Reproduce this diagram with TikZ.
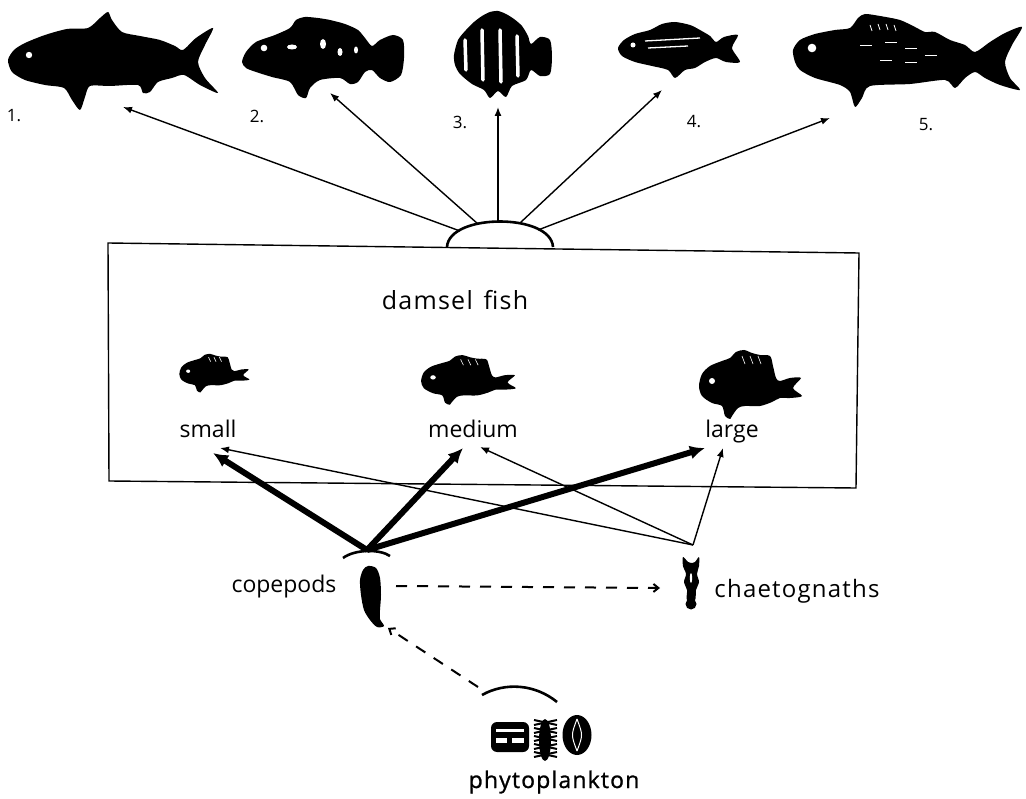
\documentclass[tikz,border=0pt]{standalone}
\usepackage{fontspec}
\setmainfont{Open Sans}
\usetikzlibrary{arrows.meta}
\begin{document}
\begin{tikzpicture}[x=1pt,y=-1pt,
  lbl/.style={font=\fontsize{23}{23}\selectfont, inner sep=0pt, anchor=base},
  num/.style={font=\fontsize{17}{17}\selectfont, inner sep=0pt},
  thinarrow/.style={line width=1.4pt,-{Latex[length=9pt,width=7pt]}},
  thickarrow/.style={line width=6pt,-{Latex[length=15pt,width=14pt]}},
  dasharrow/.style={line width=2pt,dash pattern=on 11pt off 10pt,-{Straight Barb[length=5pt,width=8pt]}},
  caparc/.style={line width=2.6pt},
  boxline/.style={line width=1.4pt},
  sil/.style={fill=black},
  damsel/.pic={
    \fill plot[smooth cycle, tension=0.5] coordinates {(-51,0) (-48,-12) (-40,-20) (-28,-25) (-20,-28) (-14,-34) (-6,-36) (2,-33) (10,-31) (20,-30) (23,-20) (26,-8) (30,-5) (40,-8) (51,-8) (43,2) (52,10) (40,12) (30,12) (22,16) (10,20) (-5,20) (-12,22) (-18,30) (-20,33) (-25,30) (-28,20) (-38,17) (-48,10)};
    \fill[white] (-38,-5) circle (3);
    \foreach \rx in {-8,0,8}
      \draw[white, line width=0.6pt] (\rx,-30) -- (\rx+3,-22);
  }
]
\useasboundingbox (0,0) rectangle (1026,799);

% ---------- top fish ----------
% fish 1
\fill[sil] plot[smooth cycle, tension=0.45] coordinates {(8,60) (14,50) (25,43) (45,35) (67,29) (88,28) (100,18) (108,12) (112,20) (122,32) (140,36) (160,40) (175,46) (183,50) (196,38) (213,28) (205,45) (198,62) (205,78) (218,93) (200,85) (184,75) (172,78) (158,82) (150,92) (143,93) (138,85) (110,86) (90,86) (85,97) (80,110) (72,100) (64,88) (45,85) (25,80) (12,72)};
\fill[white] (29,55) circle (3.2);
% fish 2
\fill[sil] plot[smooth cycle, tension=0.45] coordinates {(242,62) (246,52) (256,42) (275,35) (290,28) (296,20) (305,17) (318,18) (330,20) (345,24) (358,30) (365,38) (372,46) (380,40) (393,35) (403,40) (404,58) (401,75) (390,82) (380,78) (372,70) (365,72) (358,82) (350,84) (340,78) (320,80) (310,88) (306,98) (298,95) (290,82) (272,77) (256,72) (246,68)};
\fill[white] (264,48) circle (3.3);
\fill[white] (292,47) ellipse (5 and 2.5);
\fill[white] (323,44) ellipse (3 and 5);
\fill[white] (340,52) ellipse (2.5 and 4);
\fill[white] (356,50) ellipse (2 and 3.5);
% fish 3
\fill[sil] plot[smooth cycle, tension=0.45] coordinates {(454,55) (458,40) (466,30) (474,22) (482,16) (490,12) (498,11) (506,14) (514,19) (522,26) (528,36) (531,44) (540,37) (550,40) (552,57) (550,74) (540,76) (531,70) (526,80) (512,86) (506,97) (498,91) (490,98) (484,90) (472,84) (460,74) (455,65)};
\foreach \sx/\sy/\ey in {465/40/70, 482/30/80, 500/30/82, 517/36/76}
  \draw[white, line width=3.5pt, line cap=round] (\sx,\sy) -- (\sx+1,\ey);
% fish 4
\fill[sil] plot[smooth cycle, tension=0.45] coordinates {(618,48) (624,40) (635,34) (650,30) (662,24) (675,22) (690,25) (700,30) (710,36) (716,42) (724,37) (738,35) (732,48) (740,62) (726,62) (716,58) (705,62) (695,68) (685,70) (675,78) (668,70) (652,66) (635,62) (622,56)};
\fill[white] (633,45) circle (2.5);
\draw[white, line width=1.3pt] (645,41) -- (700,38);
\draw[white, line width=1.3pt] (648,48) -- (688,46);
% fish 5
\fill[sil] plot[smooth cycle, tension=0.45] coordinates {(793,50) (800,40) (815,34) (835,30) (850,28) (858,18) (865,14) (880,16) (900,20) (915,27) (925,32) (935,32) (950,40) (965,45) (975,52) (990,42) (1005,33) (1022,27) (1012,45) (1005,62) (1010,78) (1020,90) (1000,85) (985,78) (975,72) (965,78) (955,88) (945,80) (910,84) (870,86) (862,98) (855,107) (850,92) (840,85) (815,78) (800,70) (795,62)};
\fill[white] (812,48) circle (4.3);
\foreach \ax/\ay in {870/25, 878/24, 886/24, 894/25}
  \draw[white, line width=0.8pt] (\ax,\ay) -- (\ax+2,\ay+6);
\foreach \ax/\ay in {860/45, 885/42, 905/48, 880/60, 905/62, 925/55}
  \draw[white, line width=0.8pt] (\ax,\ay) -- (\ax+12,\ay);

% numbers
\node[num] (n1) at (14,116) {1.};
\node[num] (n2) at (257,116) {2.};
\node[num] (n3) at (460,122) {3.};
\node[num] (n4) at (694,122) {4.};
\node[num] (n5) at (926,125) {5.};

% top hub arc and arrows
\draw[caparc] (447,247) .. controls (449,213) and (551,213) .. (553,247);
\coordinate (h1) at (460,231);
\coordinate (h2) at (478,224);
\coordinate (h3) at (498,222);
\coordinate (h4) at (520,223);
\coordinate (h5) at (538,230);
\coordinate (f1) at (123,107);
\coordinate (f2) at (330,93);
\coordinate (f3) at (498,107);
\coordinate (f4) at (662,90);
\coordinate (f5) at (830,118);
\foreach \i in {1,...,5} \draw[thinarrow] (h\i) -- (f\i);

% ---------- damsel fish box ----------
\draw[boxline] (108,243) -- (859,253) -- (856,488) -- (109,481) -- cycle;
\node[lbl, font=\fontsize{25}{25}\selectfont\addfontfeature{LetterSpace=5}] (dtitle) at (455,310) {damsel\hspace{3pt} fish};
\pic[xscale=0.68, yscale=0.56] at (214,374) {damsel};
\pic[xscale=0.92, yscale=0.72] at (468,381) {damsel};
\pic at (750,386) {damsel};
\node[lbl] (small) at (208,438) {small};
\node[lbl] (medium) at (473,438) {medium};
\node[lbl] (large) at (732,438) {large};

% ---------- copepods ----------
\coordinate (chub) at (367,550);
\draw[caparc] (343,558) .. controls (355,549) and (380,549) .. (390,556);
\coordinate (ts) at (213,453);
\coordinate (tm) at (463,448);
\coordinate (tl) at (705,448);
\draw[thickarrow] (chub) -- (ts);
\draw[thickarrow] (chub) -- (tm);
\draw[thickarrow] (chub) -- (tl);

\fill[sil] plot[smooth cycle, tension=0.5] coordinates {(368,566) (376,568) (380,578) (381,595) (380,610) (380,619) (384,626) (377,627) (370,620) (364,610) (361,595) (360,580) (363,570)};
\node[lbl] (copepods) at (284,592) {copepods};

% ---------- chaetognaths ----------
\coordinate (ghub) at (693,545);
\coordinate (us) at (220,448);
\coordinate (um) at (480,447);
\coordinate (ul) at (723,448);
\draw[thinarrow] (ghub) -- (us);
\draw[thinarrow] (ghub) -- (um);
\draw[thinarrow] (ghub) -- (ul);
\fill[sil] plot[smooth cycle, tension=0.5] coordinates {(683,557) (688,562) (691,563) (695,562) (699,557) (699,566) (697,574) (699,582) (696,590) (695,600) (687,600) (687,590) (684,582) (686,574) (683,566)};
\fill[sil] (691,604) circle (5.5);
\fill[white] (691,578) ellipse (1.2 and 5);
\node[lbl, font=\fontsize{24}{24}\selectfont\addfontfeature{LetterSpace=5}] (chaet) at (797,597) {chaetognaths};

\coordinate (dA) at (396,586);
\coordinate (dB) at (660,588);
\draw[dasharrow] (dA) -- (dB);

% ---------- phytoplankton ----------
\draw[caparc] (482,695) .. controls (505,682) and (535,684) .. (557,702);
\coordinate (pA) at (478,687);
\coordinate (pB) at (388,628);
\draw[dasharrow] (pA) -- (pB);

\fill[sil, rounded corners=6pt] (491,722) rectangle (529,752);
\fill[white] (496,729) rectangle (524,732);
\fill[white] (496,738) rectangle (507,743);
\fill[white] (512,738) rectangle (524,743);
\fill[sil] (545,740) ellipse (6 and 21);
\foreach \yy in {722,730,738,746,754}
  \draw[line width=2pt] (534,\yy-2) -- (557,\yy+3);
\foreach \yy in {722,730,738,746,754}
  \draw[line width=2pt] (534,\yy+3) -- (557,\yy-2);
\fill[sil] (577,735) ellipse (14.5 and 20);
\draw[white, line width=1pt] (577,719) .. controls (571,735) .. (577,751);
\draw[white, line width=1pt] (577,719) .. controls (583,735) .. (577,751);
\node[lbl, font=\fontsize{23}{23}\selectfont\addfontfeature{LetterSpace=5,FakeBold=1}] (phyto) at (554,788) {phytoplankton};
\end{tikzpicture}
\end{document}
